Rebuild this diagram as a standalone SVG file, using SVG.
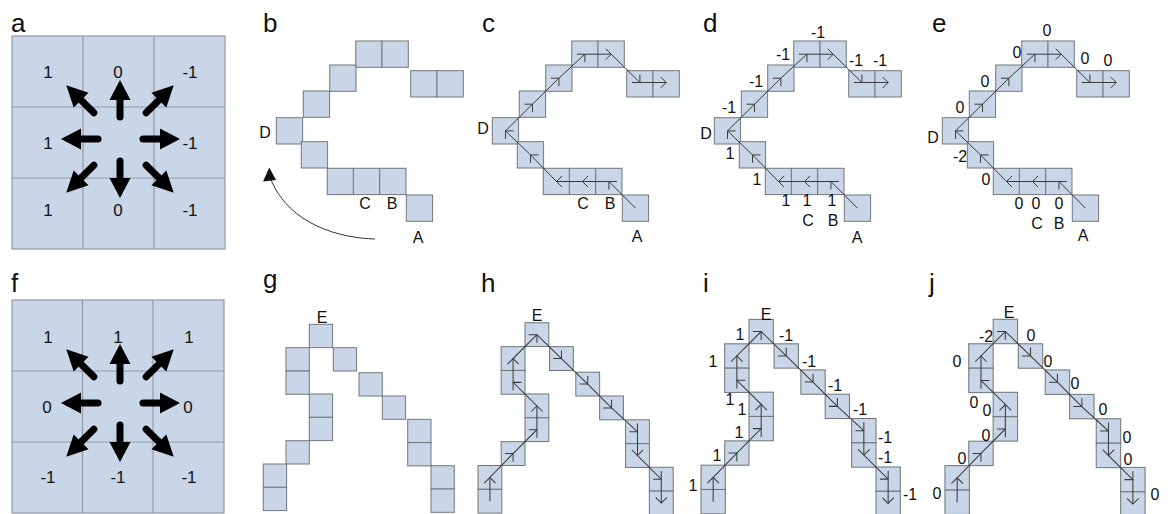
<svg xmlns="http://www.w3.org/2000/svg" xmlns:xlink="http://www.w3.org/1999/xlink" width="1168" height="514" viewBox="0 0 1168 514">
<style>
  .cell{fill:#c8d6e7;stroke:#72777d;stroke-width:1}
  .grid{fill:#c8d6e7;stroke:#8f9aa6;stroke-width:1.2}
  .gl{stroke:#8f9aa6;stroke-width:1.2}
  .flow{fill:none;stroke:#3a3a3a;stroke-width:1}
  .chv{fill:none;stroke:#3a3a3a;stroke-width:1}
  .big{fill:#000}
  .shaft{stroke:#000;stroke-width:7;stroke-linecap:round}
  text{font-family:"Liberation Sans",Arial,sans-serif;fill:#111}
  .pl{font-size:26px}
  .n{font-size:16px;text-anchor:middle}
  .g{font-size:17px;text-anchor:middle}
  .curve{fill:none;stroke:#333;stroke-width:1}
</style>
<defs>
  <g id="arrC"><line class="shaft" x1="22" y1="0" x2="41" y2="0"/><path class="big" d="M39,-10.5 L59,0 L39,10.5Z"/></g>
  <g id="arrD"><line class="shaft" x1="37" y1="0" x2="57" y2="0"/><path class="big" d="M55,-10.5 L76,0 L55,10.5Z"/></g>
  <path id="cC" class="chv" d="M-5.5,-5.5 L0,0 L-5.5,5.5"/>
  <path id="cD" class="chv" d="M-8,0 L0,0 L0,-8"/>
  <g id="topCells">
    <rect class="cell" x="355.7" y="41" width="26.3" height="26.3"/>
    <rect class="cell" x="382" y="41" width="26.3" height="26.3"/>
    <rect class="cell" x="410.7" y="70.7" width="26.3" height="26.3"/>
    <rect class="cell" x="437" y="70.7" width="26.3" height="26.3"/>
    <rect class="cell" x="329.7" y="65" width="26.3" height="26.3"/>
    <rect class="cell" x="303.3" y="91" width="26.3" height="26.3"/>
    <rect class="cell" x="276.3" y="117.7" width="26.3" height="26.3"/>
    <rect class="cell" x="301.3" y="141.7" width="26.3" height="26.3"/>
    <rect class="cell" x="327.3" y="168.3" width="26.3" height="26.3"/>
    <rect class="cell" x="353.3" y="168.3" width="26.3" height="26.3"/>
    <rect class="cell" x="379.7" y="168.3" width="26.3" height="26.3"/>
    <rect class="cell" x="406.3" y="195" width="26.3" height="26.3"/>
  </g>
  <g id="topFlow">
    <polyline class="flow" points="419.5,208.2 392.9,181.5 366.5,181.5 340.5,181.5 314.5,154.9 289.5,130.9 316.5,104.2 342.9,78.2 368.9,54.2 395.2,54.2 423.9,82.5 450.2,82.5"/>
    <use xlink:href="#cD" transform="translate(392.9,181.5) rotate(180)"/>
    <use xlink:href="#cC" transform="translate(366.5,181.5) rotate(180)"/>
    <use xlink:href="#cC" transform="translate(340.5,181.5) rotate(180)"/>
    <use xlink:href="#cD" transform="translate(314.5,154.9) rotate(180)"/>
    <use xlink:href="#cD" transform="translate(289.5,130.9) rotate(180)"/>
    <use xlink:href="#cD" transform="translate(316.5,104.2) rotate(-90)"/>
    <use xlink:href="#cD" transform="translate(342.9,78.2) rotate(-90)"/>
    <use xlink:href="#cD" transform="translate(368.9,54.2) rotate(-90)"/>
    <use xlink:href="#cC" transform="translate(395.2,54.2)"/>
    <use xlink:href="#cD" transform="translate(423.9,82.5)"/>
    <use xlink:href="#cC" transform="translate(450.2,82.5)"/>
  </g>
  <g id="botCells">
    <rect class="cell" x="309.3" y="324.3" width="23.3" height="23.3"/>
    <rect class="cell" x="286" y="347.7" width="23.3" height="23.3"/>
    <rect class="cell" x="286" y="371" width="23.3" height="23.3"/>
    <rect class="cell" x="333.3" y="347.7" width="23.3" height="23.3"/>
    <rect class="cell" x="359" y="372.7" width="23.3" height="23.3"/>
    <rect class="cell" x="382.3" y="396" width="23.3" height="23.3"/>
    <rect class="cell" x="407.7" y="419.3" width="23.3" height="23.3"/>
    <rect class="cell" x="407.7" y="442.6" width="23.3" height="23.3"/>
    <rect class="cell" x="431" y="465.7" width="23.3" height="23.3"/>
    <rect class="cell" x="431" y="489" width="23.3" height="23.3"/>
    <rect class="cell" x="309.3" y="394" width="23.3" height="23.3"/>
    <rect class="cell" x="309.3" y="417.3" width="23.3" height="23.3"/>
    <rect class="cell" x="286" y="440.7" width="23.3" height="23.3"/>
    <rect class="cell" x="263.3" y="464" width="23.3" height="23.3"/>
    <rect class="cell" x="263.3" y="487.3" width="23.3" height="23.3"/>
  </g>
  <g id="botFlow">
    <polyline class="flow" points="274.95,498.95 274.95,475.65 297.65,452.35 320.95,428.95 320.95,405.65 297.65,382.65 297.65,359.35 320.95,335.95 344.95,359.35 370.65,384.35 393.95,407.65 419.35,430.95 419.35,454.25 442.65,477.35 442.65,500.65"/>
    <use xlink:href="#cC" transform="translate(274.95,475.65) rotate(-90)"/>
    <use xlink:href="#cD" transform="translate(297.65,452.35) rotate(-90)"/>
    <use xlink:href="#cD" transform="translate(320.95,428.95) rotate(-90)"/>
    <use xlink:href="#cC" transform="translate(320.95,405.65) rotate(-90)"/>
    <use xlink:href="#cD" transform="translate(297.65,382.65) rotate(180)"/>
    <use xlink:href="#cC" transform="translate(297.65,359.35) rotate(-90)"/>
    <use xlink:href="#cD" transform="translate(320.95,335.95) rotate(-90)"/>
    <use xlink:href="#cD" transform="translate(344.95,359.35)"/>
    <use xlink:href="#cD" transform="translate(370.65,384.35)"/>
    <use xlink:href="#cD" transform="translate(393.95,407.65)"/>
    <use xlink:href="#cD" transform="translate(419.35,430.95)"/>
    <use xlink:href="#cC" transform="translate(419.35,454.25) rotate(90)"/>
    <use xlink:href="#cD" transform="translate(442.65,477.35)"/>
    <use xlink:href="#cC" transform="translate(442.65,500.65) rotate(90)"/>
  </g>
</defs>

<g id="panel-a">
  <text class="pl" x="11" y="32">a</text>
  <rect class="grid" x="12" y="36" width="213" height="213"/>
  <line class="gl" x1="83" y1="36" x2="83" y2="249"/>
  <line class="gl" x1="154" y1="36" x2="154" y2="249"/>
  <line class="gl" x1="12" y1="107" x2="225" y2="107"/>
  <line class="gl" x1="12" y1="178" x2="225" y2="178"/>
  <use xlink:href="#arrC" transform="translate(120,139) rotate(-90)"/>
  <use xlink:href="#arrC" transform="translate(120,139) rotate(90)"/>
  <use xlink:href="#arrC" transform="translate(120,139) rotate(180)"/>
  <use xlink:href="#arrC" transform="translate(121,139)"/>
  <use xlink:href="#arrD" transform="translate(120,139) rotate(-135)"/>
  <use xlink:href="#arrD" transform="translate(120,139) rotate(-45)"/>
  <use xlink:href="#arrD" transform="translate(120,139) rotate(135)"/>
  <use xlink:href="#arrD" transform="translate(120,139) rotate(45)"/>
  <text class="g" x="48" y="78">1</text>
  <text class="g" x="118" y="78">0</text>
  <text class="g" x="190" y="78">-1</text>
  <text class="g" x="48" y="149">1</text>
  <text class="g" x="190" y="149">-1</text>
  <text class="g" x="48" y="216">1</text>
  <text class="g" x="118" y="216">0</text>
  <text class="g" x="190" y="216">-1</text>
</g>

<g id="panel-f">
  <text class="pl" x="11" y="292">f</text>
  <rect class="grid" x="12" y="300" width="212" height="213"/>
  <line class="gl" x1="82.5" y1="300" x2="82.5" y2="513"/>
  <line class="gl" x1="153" y1="300" x2="153" y2="513"/>
  <line class="gl" x1="12" y1="371" x2="224" y2="371"/>
  <line class="gl" x1="12" y1="442" x2="224" y2="442"/>
  <use xlink:href="#arrC" transform="translate(120,403) rotate(-90)"/>
  <use xlink:href="#arrC" transform="translate(120,403) rotate(90)"/>
  <use xlink:href="#arrC" transform="translate(120,403) rotate(180)"/>
  <use xlink:href="#arrC" transform="translate(121,403)"/>
  <use xlink:href="#arrD" transform="translate(120,403) rotate(-135)"/>
  <use xlink:href="#arrD" transform="translate(120,403) rotate(-45)"/>
  <use xlink:href="#arrD" transform="translate(120,403) rotate(135)"/>
  <use xlink:href="#arrD" transform="translate(120,403) rotate(45)"/>
  <text class="g" x="48" y="343">1</text>
  <text class="g" x="118" y="343">1</text>
  <text class="g" x="189" y="343">1</text>
  <text class="g" x="47" y="413">0</text>
  <text class="g" x="188" y="413">0</text>
  <text class="g" x="48" y="483">-1</text>
  <text class="g" x="118" y="483">-1</text>
  <text class="g" x="189" y="483">-1</text>
</g>

<g id="panel-b">
  <text class="pl" x="263" y="32">b</text>
  <use xlink:href="#topCells"/>
  <path class="curve" d="M375,239 C340,238 290,225 271,180"/>
  <path fill="#111" d="M269.3,167.5 L263,181.5 L276,180 Z"/>
  <text class="n" x="265" y="138">D</text>
  <text class="n" x="365" y="209">C</text>
  <text class="n" x="392" y="209">B</text>
  <text class="n" x="418" y="243">A</text>
</g>

<g id="panel-c">
  <text class="pl" x="482" y="32">c</text>
  <use xlink:href="#topCells" transform="translate(216,0)"/>
  <use xlink:href="#topFlow" transform="translate(216,0)"/>
  <text class="n" x="483" y="134">D</text>
  <text class="n" x="583" y="209">C</text>
  <text class="n" x="610" y="209">B</text>
  <text class="n" x="637" y="242">A</text>
</g>

<g id="panel-d">
  <text class="pl" x="703" y="32">d</text>
  <use xlink:href="#topCells" transform="translate(438,0)"/>
  <use xlink:href="#topFlow" transform="translate(438,0)"/>
  <text class="n" x="706" y="139">D</text>
  <text class="n" x="808" y="226">C</text>
  <text class="n" x="833" y="226">B</text>
  <text class="n" x="857" y="243">A</text>
  <text class="n" x="786" y="206">1</text>
  <text class="n" x="807" y="206">1</text>
  <text class="n" x="832" y="206">1</text>
  <text class="n" x="730" y="159">1</text>
  <text class="n" x="757" y="185">1</text>
  <text class="n" x="729" y="113">-1</text>
  <text class="n" x="756" y="87">-1</text>
  <text class="n" x="783" y="60">-1</text>
  <text class="n" x="818" y="38">-1</text>
  <text class="n" x="856" y="66">-1</text>
  <text class="n" x="880" y="66">-1</text>
</g>

<g id="panel-e">
  <text class="pl" x="932" y="32">e</text>
  <use xlink:href="#topCells" transform="translate(666,0)"/>
  <use xlink:href="#topFlow" transform="translate(666,0)"/>
  <text class="n" x="933" y="143">D</text>
  <text class="n" x="1037" y="229">C</text>
  <text class="n" x="1059" y="229">B</text>
  <text class="n" x="1083" y="241">A</text>
  <text class="n" x="1019" y="209">0</text>
  <text class="n" x="1036" y="209">0</text>
  <text class="n" x="1059" y="209">0</text>
  <text class="n" x="986" y="185">0</text>
  <text class="n" x="960" y="162">-2</text>
  <text class="n" x="960" y="113">0</text>
  <text class="n" x="985" y="87">0</text>
  <text class="n" x="1017" y="58">0</text>
  <text class="n" x="1047" y="36">0</text>
  <text class="n" x="1085" y="64">0</text>
  <text class="n" x="1108" y="66">0</text>
</g>

<g id="panel-g">
  <text class="pl" x="263" y="288">g</text>
  <use xlink:href="#botCells"/>
  <text class="n" x="322" y="323">E</text>
</g>

<g id="panel-h">
  <text class="pl" x="481" y="292">h</text>
  <use xlink:href="#botCells" transform="matrix(1.022,0,0,1.022,208.9,-8.7)"/>
  <use xlink:href="#botFlow" transform="matrix(1.022,0,0,1.022,208.9,-8.7)"/>
  <text class="n" x="537" y="321">E</text>
</g>

<g id="panel-i">
  <text class="pl" x="703" y="292">i</text>
  <use xlink:href="#botCells" transform="matrix(1.0435,0,0,1.0435,426.25,-19)"/>
  <use xlink:href="#botFlow" transform="matrix(1.0435,0,0,1.0435,426.25,-19)"/>
  <text class="n" x="766" y="320">E</text>
  <text class="n" x="740" y="340">1</text>
  <text class="n" x="786" y="341">-1</text>
  <text class="n" x="713" y="367">1</text>
  <text class="n" x="809" y="367">-1</text>
  <text class="n" x="730" y="405">1</text>
  <text class="n" x="742" y="415">1</text>
  <text class="n" x="835" y="391">-1</text>
  <text class="n" x="739" y="438">1</text>
  <text class="n" x="860" y="415">-1</text>
  <text class="n" x="717" y="461">1</text>
  <text class="n" x="885" y="443">-1</text>
  <text class="n" x="885" y="463">-1</text>
  <text class="n" x="693" y="491">1</text>
  <text class="n" x="910" y="500">-1</text>
</g>

<g id="panel-j">
  <text class="pl" x="929" y="292">j</text>
  <use xlink:href="#botCells" transform="matrix(1.0477,0,0,1.0477,669.1,-20.5)"/>
  <use xlink:href="#botFlow" transform="matrix(1.0477,0,0,1.0477,669.1,-20.5)"/>
  <text class="n" x="1009" y="318">E</text>
  <text class="n" x="986" y="342">-2</text>
  <text class="n" x="1031" y="341">0</text>
  <text class="n" x="957" y="367">0</text>
  <text class="n" x="1048" y="367">0</text>
  <text class="n" x="974" y="408">0</text>
  <text class="n" x="987" y="416">0</text>
  <text class="n" x="1075" y="389">0</text>
  <text class="n" x="986" y="441">0</text>
  <text class="n" x="1103" y="415">0</text>
  <text class="n" x="962" y="464">0</text>
  <text class="n" x="1127" y="443">0</text>
  <text class="n" x="1128" y="465">0</text>
  <text class="n" x="937" y="499">0</text>
  <text class="n" x="1155" y="500">0</text>
</g>
</svg>
